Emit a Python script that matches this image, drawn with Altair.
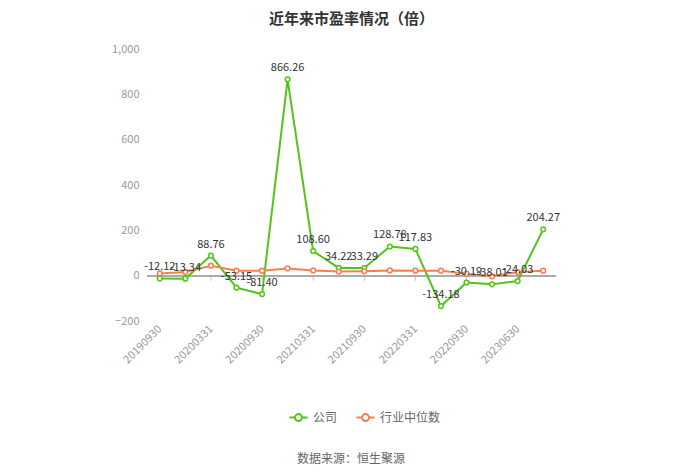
import altair as alt
import pandas as pd

# 报告期
periods = ["20190930", "20191231", "20200331", "20200630", "20200930", "20201231",
           "20210331", "20210630", "20210930", "20211231", "20220331", "20220630",
           "20220930", "20221231", "20230630", "20230930"]
# 公司市盈率
company = [-12.12, -13.34, 88.76, -53.15, -81.40, 866.26, 108.60, 34.22,
           33.29, 128.78, 117.83, -134.18, -30.19, -38.01, -24.03, 204.27]
# 行业中位数
industry = [10, 16, 44, 22, 22, 32, 23, 18, 20, 23, 22, 22, 9, -3, 16, 22]

y_ticks = [-200, 0, 200, 400, 600, 800, 1000]
shown_labels = periods[::2]

GREEN = "#52c41a"
ORANGE = "#fa7d4c"
FONT = "Noto Sans CJK SC"

df = pd.DataFrame({
    "period": periods * 2,
    "value": company + industry,
    "series": ["公司"] * len(periods) + ["行业中位数"] * len(periods),
    "label": ["%.2f" % v for v in company] + [""] * len(periods),
})

x_scale = alt.Scale(type="point", padding=0.5)
x_axis = alt.Axis(title=None, values=shown_labels, domain=False, ticks=False,
                  grid=False, labelAngle=315, labelAlign="right",
                  labelBaseline="middle", labelPadding=6,
                  labelColor="#999999", labelFontSize=11, labelFont=FONT)
y_scale = alt.Scale(domain=[-200, 1000], nice=False)
y_axis = alt.Axis(title=None, values=y_ticks,
                  labelExpr="format(datum.value, ',')", domain=False,
                  ticks=False, labelColor="#999999", labelFontSize=11,
                  labelPadding=8, gridColor="#e9edf4", labelFont=FONT)

x = alt.X("period:O", sort=periods, scale=x_scale, axis=x_axis)
y = alt.Y("value:Q", scale=y_scale, axis=y_axis)
y_zero = alt.Y(datum=0, type="quantitative", scale=y_scale, axis=y_axis)

color = alt.Color("series:N", sort=["公司", "行业中位数"],
                  scale=alt.Scale(domain=["公司", "行业中位数"], range=[GREEN, ORANGE]),
                  legend=alt.Legend(title=None, orient="none", direction="horizontal",
                                    legendX=141, legendY=358,
                                    symbolType="M-1,0L-0.38,0M0.38,0L1,0M-0.38,0A0.38,0.38 0 1,0 0.38,0A0.38,0.38 0 1,0 -0.38,0",
                                    symbolSize=330, symbolStrokeWidth=2,
                                    symbolFillColor="white", labelFontSize=12,
                                    labelColor="#666666", labelFont=FONT,
                                    columnPadding=14, labelOffset=4))

base = alt.Chart(df)

zero = base.mark_rule(color="#aaaaaa", strokeWidth=1).encode(y=y_zero)
ticks = alt.Chart(pd.DataFrame({"period": shown_labels})).mark_tick(
    orient="vertical", color="#aaaaaa", size=5, thickness=1, yOffset=2.5
).encode(x=x, y=y_zero)

lines = base.mark_line(strokeWidth=2).encode(x=x, y=y, color=color)
points = base.mark_point(shape="circle", size=22, fill="white", fillOpacity=1,
                         strokeWidth=1.5, opacity=1).encode(x=x, y=y, color=color)

green_line = lines.transform_filter(alt.datum.series == "公司")
orange_line = lines.transform_filter(alt.datum.series == "行业中位数")
green_pts = points.transform_filter(alt.datum.series == "公司")
orange_pts = points.transform_filter(alt.datum.series == "行业中位数")

labels = base.transform_filter(alt.datum.series == "公司").mark_text(
    dy=-11, fontSize=11, color="#333333", font=FONT
).encode(x=x, y=y, text="label:N")

source = alt.Chart(pd.DataFrame({"t": ["数据来源：恒生聚源"]})).mark_text(
    fontSize=12, color="#666666", font=FONT
).encode(x=alt.value(204), y=alt.value(410), text="t:N")

chart = alt.layer(
    zero, ticks, green_line, green_pts, orange_line, orange_pts, labels, source
).properties(
    width=409, height=272,
    autosize=alt.AutoSizeParams(type="none"),
    padding={"left": 139, "top": 41, "right": 136, "bottom": 145},
    title=alt.Title("近年来市盈率情况（倍）", fontSize=15, fontWeight="bold",
                    color="#333333", font=FONT, offset=16, anchor="middle"),
).configure(font=FONT).configure_view(stroke=None)

chart.save("out.html", embed_options={"renderer": "svg", "actions": False})
